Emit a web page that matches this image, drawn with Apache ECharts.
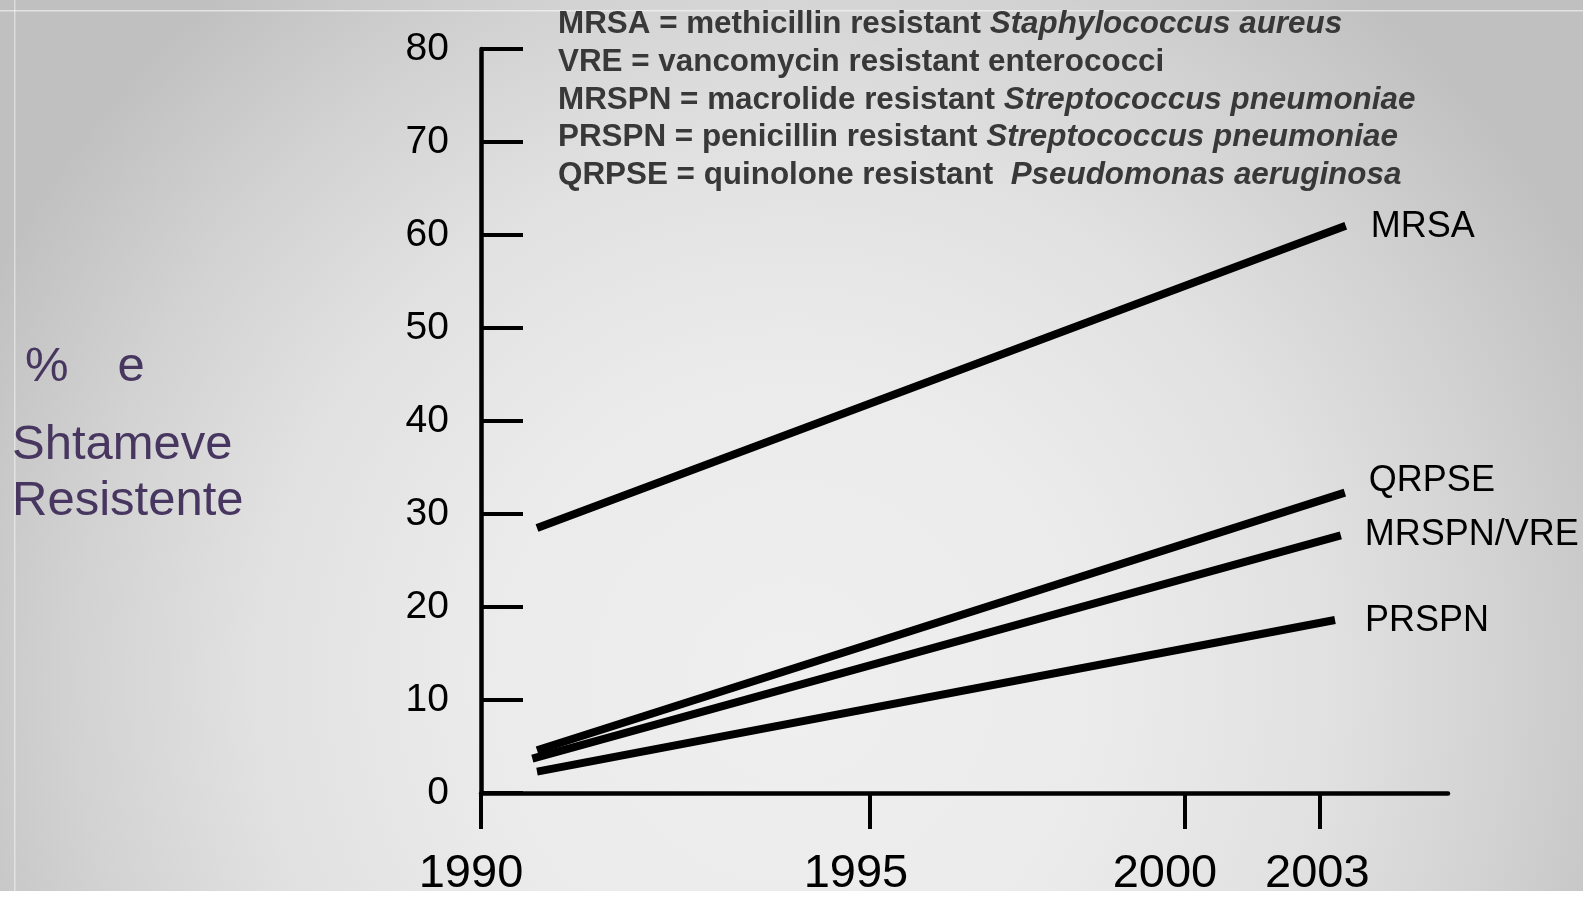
<!DOCTYPE html>
<html>
<head>
<meta charset="utf-8">
<script src="https://cdn.jsdelivr.net/npm/echarts@6/dist/echarts.min.js"></script>
<style>
html,body{margin:0;padding:0;overflow:hidden;background:#fff}
#c{width:1583px;height:898px}
</style>
</head>
<body>
<div id="c"></div>
<script>
// ---------------- DATA ----------------
const seriesNames = ['MRSA', 'QRPSE', 'MRSPN/VRE', 'PRSPN'];
const startYears  = [1990.72, 1990.72, 1990.66, 1990.72];
const endYears    = [2003.59, 2003.57, 2003.48, 2003.35];
const startValues = [28.5, 4.6, 3.7, 2.3];
const endValues   = [61.0, 32.3, 27.7, 18.6];

const yearTicks      = [1990, 1995, 2000, 2003];
const yearTickLabels = ['1990', '1995', '2000', '2003'];
const valueTicks     = [0, 10, 20, 30, 40, 50, 60, 70, 80];

const legendAbbrevs = ['MRSA', 'VRE', 'MRSPN', 'PRSPN', 'QRPSE'];
const legendPlain   = ['methicillin resistant ', 'vancomycin resistant enterococci', 'macrolide resistant ', 'penicillin resistant ', 'quinolone resistant  '];
const legendItalic  = ['Staphylococcus aureus', '', 'Streptococcus pneumoniae', 'Streptococcus pneumoniae', 'Pseudomonas aeruginosa'];

const yTitlePercent = '%';
const yTitleOf = 'e';
const yTitleLines = ['Shtameve', 'Resistente'];

// ---------------- LAYOUT ----------------
// the slide's year axis is drawn with uneven spacing; map years onto it piecewise
const axisKnots = [0, 5, 9.049, 10.776];
const xAxisMax = 12.43;
function warp(year) {
  const n = yearTicks.length;
  let i = 0;
  while (i < n - 2 && year > yearTicks[i + 1]) i++;
  const y0 = yearTicks[i], y1 = yearTicks[i + 1];
  const k0 = axisKnots[i], k1 = axisKnots[i + 1];
  return k0 + (year - y0) * (k1 - k0) / (y1 - y0);
}
const xTickPos = yearTicks.map(warp);

const FONT = '"Liberation Sans", Arial, Helvetica, sans-serif';
const labelShift = [20, 28, 40, 4];      // right padding -> shifts label left by half
const endLabelDist = [25, 24, 24, 30];
const endLabelDy   = [1, -12, 0, 1];

const xRich = {};
labelShift.forEach((p, i) => {
  xRich['t' + i] = { fontSize: 47, fontFamily: FONT, color: '#000', padding: [0, p, 0, 0] };
});

const series = seriesNames.map((name, i) => ({
  name: name,
  type: 'line',
  symbol: 'none',
  silent: true,
  data: [[warp(startYears[i]), startValues[i]], [warp(endYears[i]), endValues[i]]],
  lineStyle: { color: '#000', width: 8, cap: 'butt' },
  endLabel: {
    show: true,
    formatter: '{a}',
    fontSize: 36,
    fontFamily: FONT,
    color: '#000',
    distance: endLabelDist[i],
    offset: [0, endLabelDy[i]]
  },
  z: 5
}));

const lineYs = [24, 62.5, 100, 137.5, 175];
const graphics = [
  {
    type: 'rect', z: -100, silent: true,
    shape: { x: 0, y: 0, width: 1583, height: 898 },
    style: {
      fill: {
        type: 'radial', x: 0.5, y: 0.76, r: 1.0,
        colorStops: [
          { offset: 0, color: '#efefef' },
          { offset: 0.35, color: '#ebebeb' },
          { offset: 0.6, color: '#e1e1e1' },
          { offset: 0.8, color: '#d2d2d2' },
          { offset: 1, color: '#c0c0c0' }
        ]
      }
    }
  },
  { type: 'rect', z: -50, silent: true, shape: { x: 0, y: 10, width: 1583, height: 1.5 }, style: { fill: 'rgba(255,255,255,0.55)' } },
  { type: 'rect', z: -50, silent: true, shape: { x: 14, y: 0, width: 1.5, height: 898 }, style: { fill: 'rgba(255,255,255,0.45)' } },
  { type: 'rect', z: 100, silent: true, shape: { x: 0, y: 891, width: 1583, height: 7 }, style: { fill: '#ffffff' } }
];

legendAbbrevs.forEach((ab, i) => {
  let txt = '{b|' + ab + ' = ' + legendPlain[i] + '}';
  if (legendItalic[i]) txt += '{i|' + legendItalic[i] + '}';
  graphics.push({
    type: 'text', z: 50, silent: true,
    x: 558, y: lineYs[i],
    style: {
      text: txt,
      verticalAlign: 'middle',
      align: 'left',
      rich: {
        b: { fontSize: 31.4, fontWeight: 'bold', fontFamily: FONT, fill: '#383838' },
        i: { fontSize: 31.4, fontWeight: 'bold', fontStyle: 'italic', fontFamily: FONT, fill: '#383838' }
      }
    }
  });
});

graphics.push({
  type: 'text', z: 50, silent: true,
  x: 25, y: 367,
  style: {
    text: '{p|' + yTitlePercent + '}{s|    }{p|' + yTitleOf + '}',
    verticalAlign: 'middle',
    align: 'left',
    rich: {
      p: { fontSize: 49, fontFamily: FONT, fill: '#47365f' },
      s: { fontSize: 44, fontFamily: FONT, fill: '#47365f' }
    }
  }
});
const titleYs = [445, 501];
yTitleLines.forEach((t, i) => {
  graphics.push({
    type: 'text', z: 50, silent: true,
    x: 12, y: titleYs[i],
    style: {
      text: t,
      fontSize: 49,
      fontFamily: FONT,
      fill: '#47365f',
      verticalAlign: 'middle',
      align: 'left'
    }
  });
});

const option = {
  animation: false,
  grid: { left: 481, right: 135, top: 49, bottom: 105, outerBoundsMode: 'none', containLabel: false },
  xAxis: {
    type: 'value',
    min: 0,
    max: xAxisMax,
    axisLine: { show: true, lineStyle: { color: '#000', width: 4.5 } },
    splitLine: { show: false },
    axisTick: {
      show: true, inside: false, length: 36,
      customValues: xTickPos,
      lineStyle: { color: '#000', width: 4 }
    },
    axisLabel: {
      show: true,
      customValues: xTickPos,
      margin: 58,
      fontSize: 47,
      fontFamily: FONT,
      color: '#000',
      rich: xRich,
      formatter: function (v) {
        for (let i = 0; i < xTickPos.length; i++) {
          if (Math.abs(xTickPos[i] - v) < 1e-6) return '{t' + i + '|' + yearTickLabels[i] + '}';
        }
        return '';
      }
    }
  },
  yAxis: {
    type: 'value',
    min: valueTicks[0],
    max: valueTicks[valueTicks.length - 1],
    interval: 10,
    axisLine: { show: true, lineStyle: { color: '#000', width: 4.5 } },
    splitLine: { show: false },
    axisTick: { show: true, inside: true, length: 42, lineStyle: { color: '#000', width: 4 } },
    axisLabel: {
      show: true, margin: 32, fontSize: 39, fontFamily: FONT, color: '#000',
      customValues: valueTicks
    }
  },
  graphic: graphics,
  series: series
};

const chart = echarts.init(document.getElementById('c'), null, { renderer: 'canvas' });
chart.setOption(option);
</script>
</body>
</html>
